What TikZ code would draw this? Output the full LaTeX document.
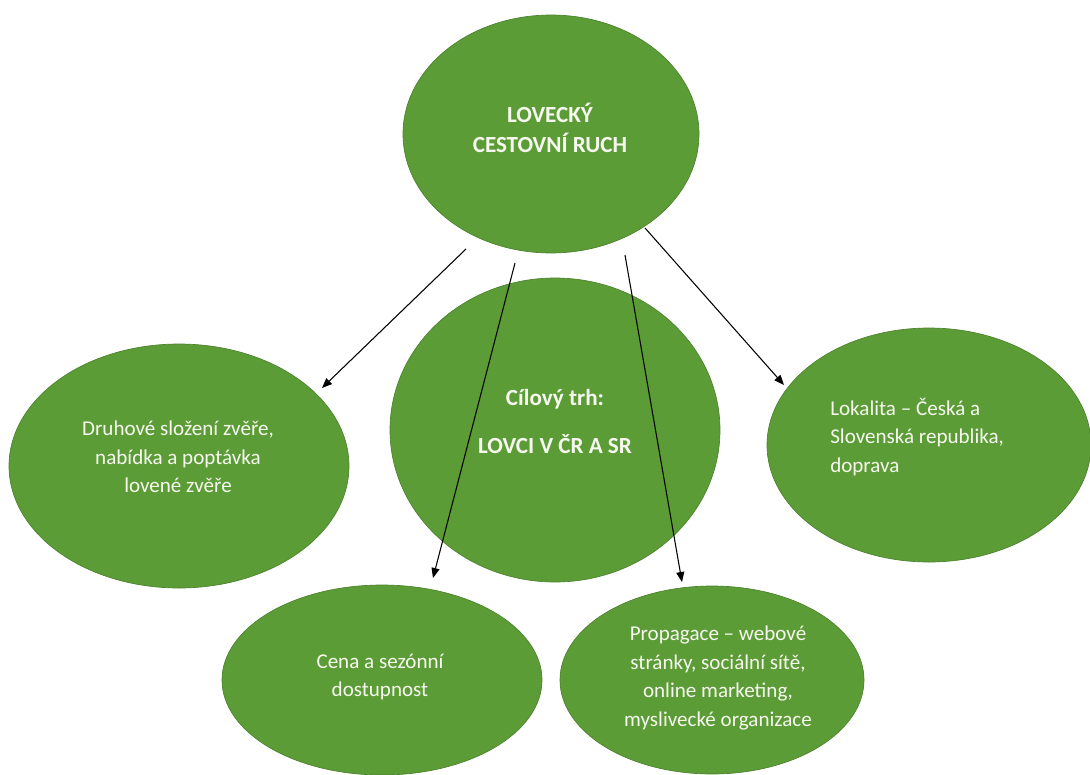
\documentclass[tikz,border=0pt]{standalone}
\usepackage{fontspec}
\setmainfont{Carlito}
\usetikzlibrary{shapes.geometric,arrows.meta}
\definecolor{leaf}{RGB}{92,156,54}
\definecolor{leafedge}{RGB}{76,130,46}
\definecolor{txt}{RGB}{246,248,240}
\tikzset{
  bubble/.style={ellipse, fill=leaf, draw=leafedge, line width=0.5pt, inner sep=0pt, outer sep=0pt},
  lbl/.style={text=txt, font=\fontsize{15.8pt}{21.5pt}\selectfont, inner sep=0pt},
  boldlbl/.style={lbl, font=\fontsize{17.3pt}{22.5pt}\selectfont\bfseries},
  conn/.style={line width=0.8pt, -{Triangle[length=7.5pt,width=6pt]}}
}
\begin{document}
\begin{tikzpicture}[x=0.75pt,y=-0.75pt]
\useasboundingbox (0,0) rectangle (1090,775);
% ellipses
\node[bubble, minimum width=222pt, minimum height=178.5pt] (top) at (551,134) {};
\node[bubble, minimum width=255pt, minimum height=183pt] (left) at (179,466) {};
\node[bubble, minimum width=243pt, minimum height=175.5pt] (right) at (929,445) {};
\node[bubble, minimum width=240pt, minimum height=142.5pt] (bl) at (382,680) {};
\node[bubble, minimum width=228pt, minimum height=141pt] (br) at (712,680) {};
\node[bubble, minimum width=247.5pt, minimum height=228pt] (mid) at (555,430) {};
% texts
\node[boldlbl, align=center] (ttop) at (550,128) {LOVECKÝ\\CESTOVNÍ RUCH};
\node[lbl, align=center] (tleft) at (178,457) {Druhové složení zvěře,\\nabídka a poptávka\\lovené zvěře};
\node[boldlbl, align=center] (tmid) at (555,421) {Cílový trh:\\[13.5pt]LOVCI V ČR A SR};
\node[lbl, align=left, anchor=west] (tright) at (830,437) {Lokalita – Česká a\\Slovenská republika,\\doprava};
\node[lbl, align=center] (tbl) at (380,677) {Cena a sezónní\\dostupnost};
\node[lbl, align=center] (tbr) at (718,678) {Propagace – webové\\stránky, sociální sítě,\\online marketing,\\myslivecké organizace};
% connector end points
\coordinate (s1) at (466,249);
\coordinate (e1) at (322,388);
\coordinate (s2) at (515,263);
\coordinate (e2) at (433,578);
\coordinate (s3) at (625,255);
\coordinate (e3) at (682,582);
\coordinate (s4) at (645,228);
\coordinate (e4) at (784,385);
\draw[conn] (s1) -- (e1);
\draw[conn] (s2) -- (e2);
\draw[conn] (s3) -- (e3);
\draw[conn] (s4) -- (e4);
\end{tikzpicture}
\end{document}
